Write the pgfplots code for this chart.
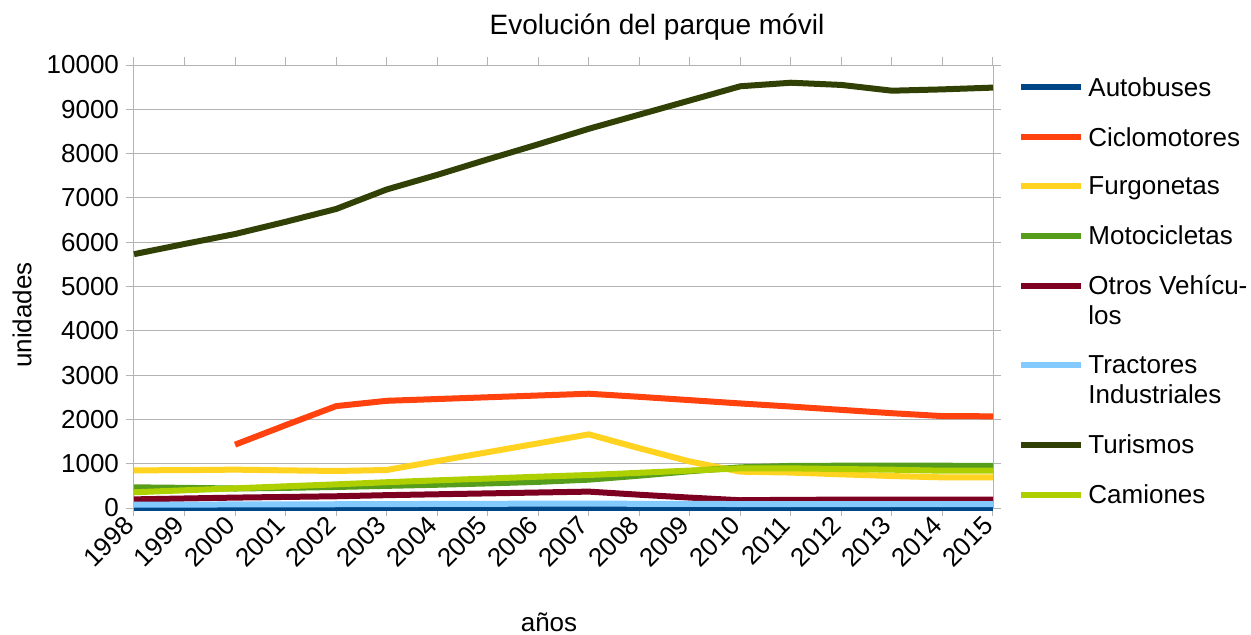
\documentclass[border=0pt]{standalone}
\usepackage{pgfplots}
\pgfplotsset{compat=1.18}
\usepackage{pgfplotstable}
\usepackage{fontspec}
\setmainfont{Liberation Sans}
\definecolor{cAut}{HTML}{004586}
\definecolor{cCic}{HTML}{FF420E}
\definecolor{cFur}{HTML}{FFD320}
\definecolor{cMot}{HTML}{579D1C}
\definecolor{cOtr}{HTML}{7E0021}
\definecolor{cTra}{HTML}{83CAFF}
\definecolor{cTur}{HTML}{314004}
\definecolor{cCam}{HTML}{AECF00}
\definecolor{gridgray}{HTML}{B3B3B3}
\pgfplotsset{
  oneline legend/.style={legend image code/.code={\draw[##1] (0pt,4.5pt) -- (30pt,4.5pt);}},
  twoline legend/.style={legend image code/.code={\draw[##1] (0pt,19.5pt) -- (30pt,19.5pt);}},
}
\pgfplotstableread{
year Aut Cic Fur Mot Otr Tra Tur Cam
1998 5 nan 850 467 195 75 5730 355
1999 5 nan 855 455 215 78 5960 400
2000 5 1430 866 440 235 80 6185 444
2001 5 1870 850 455 250 82 6460 490
2002 5 2300 836 475 265 85 6750 534
2003 5 2420 858 500 290 88 7190 582
2004 5 2460 1060 525 310 92 7520 625
2005 5 2500 1260 555 330 95 7870 665
2006 5 2540 1460 590 350 98 8210 707
2007 5 2580 1663 640 370 100 8560 745
2008 5 2510 1350 730 300 95 8880 795
2009 5 2435 1050 830 235 92 9200 845
2010 5 2360 820 918 175 90 9520 895
2011 5 2290 800 950 185 90 9600 895
2012 5 2215 760 955 188 90 9550 880
2013 5 2140 722 955 190 90 9420 865
2014 5 2075 692 955 190 90 9450 842
2015 5 2070 692 950 190 90 9490 842
}\datatable
\begin{document}
\begin{tikzpicture}
\useasboundingbox (-67pt,-63pt) rectangle (558.5pt,254pt);
\begin{axis}[
  at={(0pt,0pt)}, anchor=south west,
  scale only axis, width=429.5pt, height=221.5pt,
  xmin=1998, xmax=2015, ymin=0, ymax=10000,
  xtick={1998,...,2015}, ytick={0,1000,...,10000},
  scaled ticks=false,
  /pgf/number format/assume math mode=true,
  xticklabel style={/pgf/number format/1000 sep={}, rotate=45, anchor=east, font=\fontsize{13pt}{15pt}\selectfont},
  yticklabel style={/pgf/number format/fixed, /pgf/number format/1000 sep={}, font=\fontsize{13pt}{15pt}\selectfont},
  tick align=outside, major tick length=4pt,
  tick style={gridgray, line width=0.5pt},
  axis line style={gridgray, line width=0.5pt},
  ymajorgrids, major grid style={gridgray, line width=0.5pt},
  xmajorgrids=false,
  clip=false,
  unbounded coords=jump,
  every axis plot/.append style={line width=3pt, line join=round},
  legend style={at={(439pt,219.5pt)}, anchor=north west, draw=none, fill=none,
    font=\fontsize{13pt}{15pt}\selectfont, row sep=10pt,
    cells={anchor=base west, align=left}},
  oneline legend,
]
\addplot[cAut] table[x=year,y=Aut]{\datatable};
\addlegendentry{Autobuses}
\addplot[cCic] table[x=year,y=Cic]{\datatable};
\addlegendentry{Ciclomotores}
\addplot[cFur] table[x=year,y=Fur]{\datatable};
\addlegendentry{Furgonetas}
\addplot[cMot] table[x=year,y=Mot]{\datatable};
\addlegendentry{Motocicletas}
\addplot[cOtr, twoline legend] table[x=year,y=Otr]{\datatable};
\addlegendentry{Otros Vehícu-\\los}
\addplot[cTra, twoline legend] table[x=year,y=Tra]{\datatable};
\addlegendentry{Tractores\\Industriales}
\addplot[cTur] table[x=year,y=Tur]{\datatable};
\addlegendentry{Turismos}
\addplot[cCam] table[x=year,y=Cam]{\datatable};
\addlegendentry{Camiones}
\end{axis}
\node[font=\fontsize{14pt}{16pt}\selectfont] at (261.5pt,240.5pt) {Evolución del parque móvil};
\node[font=\fontsize{13pt}{15pt}\selectfont, rotate=90] at (-56pt,96.5pt) {unidades};
\node[font=\fontsize{13pt}{15pt}\selectfont] at (207.5pt,-57pt) {años};
\end{tikzpicture}
\end{document}
